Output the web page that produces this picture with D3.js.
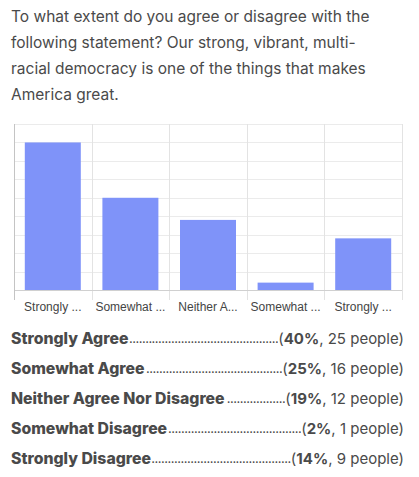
<!DOCTYPE html>
<html lang="en">
<head>
  <meta charset="UTF-8">
  <title>Survey chart</title>
  <style>
    body { margin: 0; background: #fff; color: #4a4a4a; font-family: 'Inter', 'Open Sans', sans-serif; }
    .title { position: absolute; left: 11px; top: 4px; width: 400px; font-size: 15.5px; line-height: 26px; color: #4a4a4a; }
    #chart { position: absolute; left: 0; top: 110px; }
    .list { position: absolute; left: 11px; top: 323px; width: 393px; }
    .row { display: flex; height: 30px; align-items: center; font-size: 15px; white-space: nowrap; }
    .row .lab { font-weight: 800; font-size: 15.8px; }
    .row .dots { flex: 1; overflow: hidden; font-size: 13px; letter-spacing: -0.5px; text-align: right; }
    .row .val b { font-weight: 700; }
  </style>
  <script src="https://d3js.org/d3.v7.min.js"></script>
</head>
<body>
  <div class="title">To what extent do you agree or disagree with the<br>following statement? Our strong, vibrant, multi-<br>racial democracy is one of the things that makes<br>America great.</div>
  <div id="chart"></div>
  <div class="list" id="list"></div>

  <script>
    const categories = ['Strongly Agree', 'Somewhat Agree', 'Neither Agree Nor Disagree', 'Somewhat Disagree', 'Strongly Disagree'];
    const shortLabels = ['Strongly ...', 'Somewhat ...', 'Neither A...', 'Somewhat ...', 'Strongly ...'];
    const percents = [40, 25, 19, 2, 14];
    const people = [25, 16, 12, 1, 9];
    const yTicks = [0, 5, 10, 15, 20, 25, 30, 35, 40, 45];

    const W = 419, H = 205,
          M = { top: 14, right: 17, bottom: 25, left: 14 };

    const svg = d3.select('#chart').append('svg')
      .attr('width', W).attr('height', H);

    const x = d3.scaleBand().domain(categories).range([M.left, W - M.right]).paddingInner(0).paddingOuter(0);
    const y = d3.scaleLinear().domain([0, 45]).range([H - M.bottom, M.top]);
    const base = y(0);

    // horizontal grid
    svg.append('g').selectAll('line').data(yTicks.slice(1)).join('line')
      .attr('x1', M.left).attr('x2', W - M.right)
      .attr('y1', d => Math.round(y(d)) + 0.5).attr('y2', d => Math.round(y(d)) + 0.5)
      .attr('stroke', '#ebebeb');

    // vertical category separators (extend as ticks)
    const seps = categories.map(c => x(c)).concat([x.range()[1]]);
    svg.append('g').selectAll('line').data(seps.slice(1)).join('line')
      .attr('x1', d => Math.round(d) + 0.5).attr('x2', d => Math.round(d) + 0.5)
      .attr('y1', M.top).attr('y2', base + 10)
      .attr('stroke', '#e3e3e3');

    // bars
    const bw = 56;
    svg.append('g').selectAll('rect').data(categories).join('rect')
      .attr('x', d => x(d) + (x.bandwidth() - bw) / 2)
      .attr('width', bw)
      .attr('y', (d, i) => y(percents[i]))
      .attr('height', (d, i) => base - y(percents[i]))
      .attr('fill', '#7f93f9');

    // baseline and left axis
    svg.append('line')
      .attr('x1', M.left).attr('x2', W - M.right)
      .attr('y1', Math.round(base) + 0.5).attr('y2', Math.round(base) + 0.5)
      .attr('stroke', '#d0d0d0');
    svg.append('line')
      .attr('x1', M.left + 0.5).attr('x2', M.left + 0.5)
      .attr('y1', M.top).attr('y2', base + 10)
      .attr('stroke', '#c4c4c4');

    // category labels
    svg.append('g').selectAll('text').data(categories).join('text')
      .attr('x', d => x(d) + x.bandwidth() / 2)
      .attr('y', base + 21)
      .attr('text-anchor', 'middle')
      .attr('font-family', "'Liberation Sans', Arial, sans-serif")
      .attr('font-size', 12)
      .attr('fill', '#444')
      .text((d, i) => shortLabels[i]);

    // list below the chart
    const rows = d3.select('#list').selectAll('.row').data(categories).join('div').attr('class', 'row');
    rows.append('span').attr('class', 'lab').text(d => d);
    rows.append('span').attr('class', 'dots').text('');
    rows.append('span').attr('class', 'val')
      .html((d, i) => `(<b>${percents[i]}%</b>, ${people[i]} people)`);

    // fill the leader with as many dots as fit
    rows.select('.dots').each(function() {
      const avail = this.getBoundingClientRect().width;
      const s = document.createElement('span');
      this.appendChild(s);
      let n = 0;
      while (n < 400) {
        s.textContent = '.'.repeat(n + 1);
        if (s.getBoundingClientRect().width > avail) break;
        n++;
      }
      this.textContent = '.'.repeat(n);
    });
  </script>
</body>
</html>
